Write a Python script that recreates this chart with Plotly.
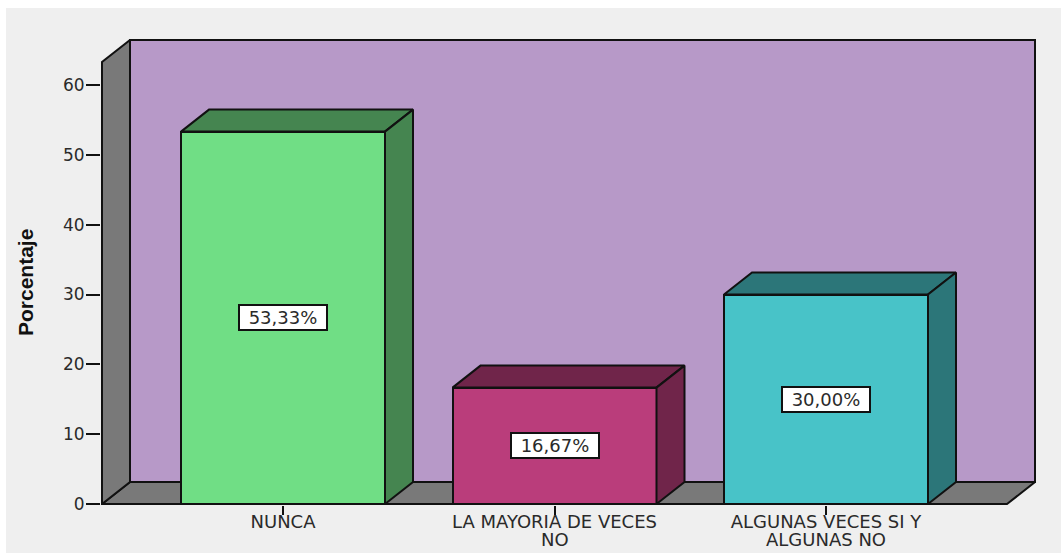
import plotly.graph_objects as go

categories = ["NUNCA", "LA MAYORIA DE VECES", "ALGUNAS VECES SI Y"]
second_lines = ["", "NO", "ALGUNAS NO"]
values = [53.33, 16.67, 30.00]
labels = ["53,33%", "16,67%", "30,00%"]
y_ticks = [0, 10, 20, 30, 40, 50, 60]
front_colors = ["#70DE85", "#BA3D7B", "#48C3C8"]
dark_colors = ["#458550", "#70254A", "#2C7679"]

WALL = "#B799C8"
GREY = "#797979"
BG = "#EFEFEF"
INK = "#111111"
TEXT = "#2A2A2A"

# pixel frame of the plot area
L, R, T, B = 101, 1036, 39, 505
W, H = 1061, 554
PX_Y = 6.983           # pixels per percent
PX_X = 271.5           # pixels per category
X0_PX = 283            # pixel of the first category
Y0_PX = 504            # pixel of value 0

x_range = [(L - X0_PX) / PX_X, (R - X0_PX) / PX_X]
y_range = [(Y0_PX - B) / PX_Y, (Y0_PX - T) / PX_Y]

DX = 28 / PX_X         # depth in x units
DY = 22 / PX_Y         # depth in y units
BAR_W = 204 / PX_X
HW = BAR_W / 2
LEFT = (102 - X0_PX) / PX_X
RIGHT = (1035 - X0_PX) / PX_X
TOP_BACK = (504 - 40) / PX_Y
TOP_FRONT = TOP_BACK - DY
xs = list(range(len(values)))


def path(points):
    return "M " + " L ".join(f"{x},{y}" for x, y in points) + " Z"


fig = go.Figure()

# grey page panel
fig.add_shape(type="rect", xref="paper", yref="paper", layer="below",
              x0=(6 - L) / (R - L), x1=(1061 - L) / (R - L),
              y0=(B - 553) / (B - T), y1=(B - 8) / (B - T),
              fillcolor=BG, line_width=0)

wall_line = dict(color=INK, width=2)
# floor, side wall, back wall
fig.add_shape(type="path", layer="below", fillcolor=GREY, line=wall_line,
              path=path([(LEFT, 0), (LEFT + DX, DY), (RIGHT, DY), (RIGHT - DX, 0)]))
fig.add_shape(type="path", layer="below", fillcolor=GREY, line=wall_line,
              path=path([(LEFT, 0), (LEFT, TOP_FRONT), (LEFT + DX, TOP_BACK), (LEFT + DX, DY)]))
fig.add_shape(type="path", layer="below", fillcolor=WALL, line=wall_line,
              path=path([(LEFT + DX, DY), (LEFT + DX, TOP_BACK), (RIGHT, TOP_BACK), (RIGHT, DY)]))

# front faces
fig.add_trace(go.Bar(x=xs, y=values, width=BAR_W,
                     marker=dict(color=front_colors, line=dict(color=INK, width=2)),
                     hoverinfo="skip", showlegend=False))

# top and side faces of each bar
for x, v, c in zip(xs, values, dark_colors):
    top = [(x - HW, v), (x - HW + DX, v + DY), (x + HW + DX, v + DY), (x + HW, v), (x - HW, v)]
    side = [(x + HW, 0), (x + HW, v), (x + HW + DX, v + DY), (x + HW + DX, DY), (x + HW, 0)]
    for poly in (top, side):
        fig.add_trace(go.Scatter(x=[p[0] for p in poly], y=[p[1] for p in poly],
                                 mode="lines", fill="toself", fillcolor=c,
                                 line=dict(color=INK, width=2),
                                 hoverinfo="skip", showlegend=False))

# x axis baseline
fig.add_shape(type="line", x0=LEFT, x1=RIGHT - DX, y0=0, y1=0, line=wall_line)

# value labels
for x, v, t in zip(xs, values, labels):
    fig.add_annotation(x=x, y=v / 2, text=t, showarrow=False,
                       width=86, height=23, bgcolor="white",
                       bordercolor=INK, borderwidth=2, borderpad=0,
                       font=dict(family="DejaVu Sans", size=18, color=TEXT))

# second line of the wrapped category labels, at the reference's tight leading
for x, t in zip(xs, second_lines):
    if t:
        fig.add_annotation(x=x, y=0, yref="y", yanchor="middle", yshift=-35,
                           text=t, showarrow=False,
                           font=dict(family="DejaVu Sans", size=18, color=TEXT))

# axis title
fig.add_annotation(xref="paper", yref="paper", showarrow=False, textangle=-90,
                   x=(25 - L) / (R - L), y=(B - 283) / (B - T),
                   xanchor="center", yanchor="middle", text="<b>Porcentaje</b>",
                   font=dict(family="Liberation Sans", size=21, color="#111111"))

fig.update_layout(
    width=W, height=H,
    margin=dict(l=L, r=W - R, t=T, b=H - B, pad=0),
    paper_bgcolor="white", plot_bgcolor="rgba(0,0,0,0)",
    bargap=0,
    font=dict(family="DejaVu Sans", size=17, color=TEXT),
    xaxis=dict(range=x_range, tickmode="array", tickvals=xs, ticktext=categories,
               ticks="outside", ticklen=9, tickwidth=2, tickcolor=INK,
               ticklabelstandoff=-9,
               tickfont=dict(family="DejaVu Sans", size=18, color=TEXT),
               showgrid=False, zeroline=False, showline=False, automargin=False),
    yaxis=dict(range=y_range, tickmode="array", tickvals=y_ticks,
               ticks="outside", ticklen=14, tickwidth=2, tickcolor=INK,
               ticklabelstandoff=-2,
               showgrid=False, zeroline=False, showline=False, automargin=False),
)

fig.write_html("out.html", config=dict(displayModeBar=False),
               post_script="document.body.style.margin='0';")
